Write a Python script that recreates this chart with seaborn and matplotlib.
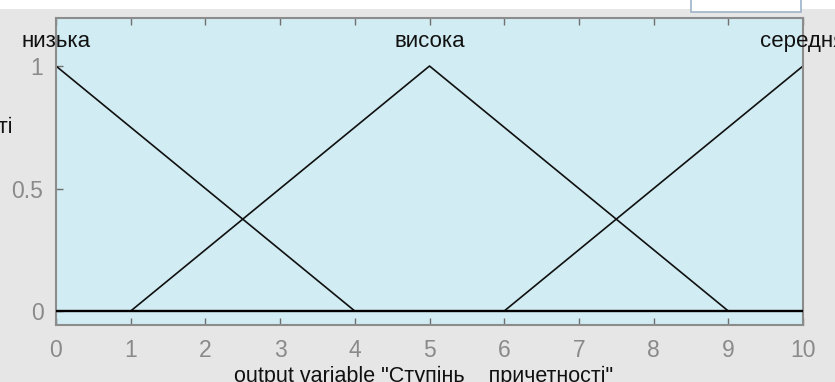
import matplotlib
matplotlib.use("Agg")
import matplotlib.pyplot as plt
import matplotlib.patches as mpatches
import numpy as np
import pandas as pd
import seaborn as sns

# Membership function names and their triangle vertices (x, degree)
mf_names = ["низька", "висока", "середня"]
mf_x = [[0, 4, 10], [0, 1, 5, 9, 10], [0, 6, 10]]
mf_y = [[1, 0, 0], [0, 0, 1, 0, 0], [0, 0, 1]]
# Peak positions where each name is written
label_x = [0, 5, 10]

x_ticks = [0, 1, 2, 3, 4, 5, 6, 7, 8, 9, 10]
y_ticks = [0, 0.5, 1]
y_tick_labels = ["0", "0.5", "1"]
x_label = 'output variable "Ступінь    причетності"'
y_label = "ступінь належності"

rows = []
for name, xs, ys in zip(mf_names, mf_x, mf_y):
    for x, y in zip(xs, ys):
        rows.append({"mf": name, "x": x, "mu": y})
df = pd.DataFrame(rows)

sns.set_theme(style="white")
plt.rcParams["font.family"] = ["Liberation Sans", "DejaVu Sans"]

fig = plt.figure(figsize=(8.35, 3.82), dpi=100)
fig.patch.set_facecolor("#e6e6e6")
ax = fig.add_axes([56 / 835, 57 / 382, 747 / 835, 307 / 382])
ax.set_facecolor("#d1ecf2")

# white strip and box along the top edge of the window
fig.patches.append(mpatches.Rectangle((0, 1 - 9 / 382), 1, 9 / 382,
                                      transform=fig.transFigure,
                                      facecolor="white", edgecolor="none", zorder=0))
fig.patches.append(mpatches.Rectangle((691 / 835, 1 - 11.5 / 382), 110 / 835, 13 / 382,
                                      transform=fig.transFigure,
                                      facecolor="white", edgecolor="#9db3c9",
                                      linewidth=1.2, zorder=1))

sns.lineplot(data=df, x="x", y="mu", units="mf", estimator=None, sort=False,
             color="#101010", linewidth=1.2, ax=ax, legend=False)
ax.axhline(0, color="black", linewidth=1.7, zorder=3)

for name, lx in zip(mf_names, label_x):
    ax.text(lx, 1.1, name, ha="center", va="center", fontsize=16,
            color="#111111", clip_on=False)

ax.set_xlim(0, 10)
ax.set_ylim(-0.057, 1.196)
ax.set_xticks(x_ticks)
ax.set_xticklabels([str(t) for t in x_ticks])
ax.set_yticks(y_ticks)
ax.set_yticklabels(y_tick_labels)
ax.tick_params(axis="x", which="both", direction="in", top=True, bottom=True,
               length=5, width=1, color="#707070", labelsize=16.5,
               labelcolor="#8a8a8a", pad=10)
ax.tick_params(axis="y", which="both", direction="in", left=True, right=False,
               length=5, width=1, color="#707070", labelsize=16.5,
               labelcolor="#8a8a8a", pad=9)
for s in ax.spines.values():
    s.set_visible(True)
    s.set_color("#8c8c8c")
    s.set_linewidth(1.5)

ax.set_xlabel(x_label, fontsize=15.5, color="#111111")
ax.xaxis.label.set_va("center")
ax.xaxis.set_label_coords(0.492, (325 - 376) / 307)
ax.set_ylabel("")
fig.text(13 / 835, 1 - 127 / 382, y_label, ha="right", va="center",
         fontsize=15.5, color="#111111")

fig.savefig("out.png", dpi=100, facecolor=fig.get_facecolor())
